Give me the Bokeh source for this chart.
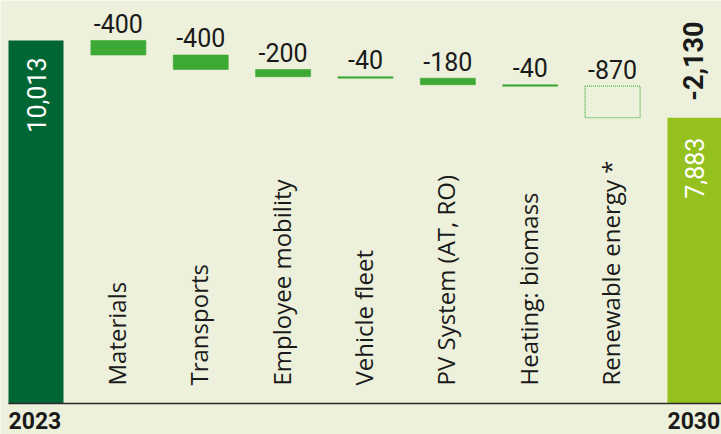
import math
from bokeh.plotting import figure
from bokeh.models import ColumnDataSource
from bokeh.core.properties import value
from bokeh.embed import file_html
from bokeh.resources import INLINE

# ---- data ----
start_year = "2023"
end_year = "2030"
start_value = 10013
categories = ["Materials", "Transports", "Employee mobility", "Vehicle fleet",
              "PV System (AT, RO)", "Heating: biomass", "Renewable energy *"]
reductions = [400, 400, 200, 40, 180, 40, 870]
planned = [True, True, True, True, True, True, False]   # False -> dotted outline
end_value = 7883
total_label = "-2,130"

# ---- styles ----
BG = "#EDF1DB"
DARK = "#006633"
MID = "#3DAA35"
LIGHT = "#95C11F"
INK = "#1A1A1A"
W = 0.668

n = len(categories)
tops, bottoms = [], []
run = start_value
for d in reductions:
    tops.append(run)
    bottoms.append(run - d)
    run -= d

p = figure(width=721, height=434, x_range=(-0.431, 8.322), y_range=(-855, 11116),
           output_backend="svg", toolbar_location=None, min_border=0)
p.axis.visible = False
p.grid.visible = False
p.outline_line_color = None
p.background_fill_color = BG
p.border_fill_color = BG

xs = list(range(1, n + 1))

# start / end bars
p.vbar(x=[0], top=[start_value], bottom=0, width=W, fill_color=DARK, line_color=None)
p.vbar(x=[n + 1], top=[end_value], bottom=0, width=W, fill_color=LIGHT, line_color=None)

# reduction bars
solid = ColumnDataSource(dict(
    x=[x for x, f in zip(xs, planned) if f],
    top=[t for t, f in zip(tops, planned) if f],
    bottom=[b for b, f in zip(bottoms, planned) if f]))
p.vbar(x="x", top="top", bottom="bottom", width=W, source=solid,
       fill_color=MID, line_color=MID, line_width=0.6)
dotted = ColumnDataSource(dict(
    x=[x for x, f in zip(xs, planned) if not f],
    top=[t for t, f in zip(tops, planned) if not f],
    bottom=[b for b, f in zip(bottoms, planned) if not f]))
p.vbar(x="x", top="top", bottom="bottom", width=W, source=dotted,
       fill_color=None, line_color="#4DB443", line_width=1.3, line_dash="1 1")

# baseline axis line
p.segment(x0=[-W / 2], y0=[0], x1=[n + 1.6], y1=[0], line_color="#2B2B2B", line_width=1.6)

# value labels
p.text(x=xs, y=tops, text=[f"-{d:,}" for d in reductions], text_align="center",
       text_baseline="alphabetic", y_offset=-17, text_font=value("Roboto"),
       text_font_size="25px", text_color=INK)

# category labels (rotated)
p.text(x=xs, y=[0] * n, text=categories, angle=math.pi / 2, text_align="left",
       text_baseline="middle", x_offset=-2, y_offset=-18, text_font=value("Open Sans"),
       text_font_size="24px", text_color=INK)

# start / end values inside bars
p.text(x=[0, n + 1], y=[start_value, end_value], text=[f"{start_value:,}", f"{end_value:,}"],
       angle=math.pi / 2, text_align="right", text_baseline="middle", y_offset=[17, 20],
       text_font=value("Roboto"), text_font_size="25px", text_color="white")

# total reduction
p.text(x=[n + 1], y=[end_value], text=[total_label], angle=math.pi / 2, text_align="left",
       text_baseline="middle", x_offset=-2, y_offset=-17, text_font=value("Roboto"),
       text_font_size="27px", text_font_style="bold", text_color=INK)

# year labels
p.text(x=[-W / 2, n + 1 - W / 2], y=[0, 0], text=[start_year, end_year], text_align="left",
       text_baseline="alphabetic", y_offset=17,
       text_font=value("Roboto"), text_font_size="23px",
       text_font_style="bold", text_color=INK)

open("out.html", "w").write(file_html(p, INLINE))
